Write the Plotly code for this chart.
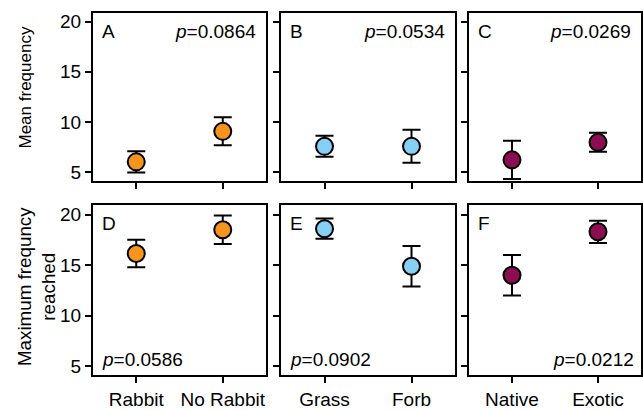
import plotly.graph_objects as go

# ---- data ----
panel_letters = ["A", "B", "C", "D", "E", "F"]
categories_rabbit = ["Rabbit", "No Rabbit"]
categories_growth = ["Grass", "Forb"]
categories_origin = ["Native", "Exotic"]

mean_rabbit = [6.0, 9.05]
mean_rabbit_err = [1.05, 1.4]
mean_growth = [7.55, 7.55]
mean_growth_err = [1.05, 1.65]
mean_origin = [6.2, 7.95]
mean_origin_err = [1.9, 0.95]

max_rabbit = [16.15, 18.5]
max_rabbit_err = [1.35, 1.4]
max_growth = [18.6, 14.9]
max_growth_err = [1.0, 2.0]
max_origin = [14.0, 18.3]
max_origin_err = [2.0, 1.1]

p_values = ["0.0864", "0.0534", "0.0269", "0.0586", "0.0902", "0.0212"]
y_ticks = [5, 10, 15, 20]

colors = {"rabbit": "#F7941E", "growth": "#86D0F5", "origin": "#8C0E50"}

W, H = 643, 410
FONT = "Liberation Sans, Arial, sans-serif"
FS = 19

# panel pixel frames
xpix = [(93, 266), (281, 455), (469, 641)]
ypix = [(12, 183), (208, 381)]

panels = [
    (categories_rabbit, mean_rabbit, mean_rabbit_err, "rabbit"),
    (categories_growth, mean_growth, mean_growth_err, "growth"),
    (categories_origin, mean_origin, mean_origin_err, "origin"),
    (categories_rabbit, max_rabbit, max_rabbit_err, "rabbit"),
    (categories_growth, max_growth, max_growth_err, "growth"),
    (categories_origin, max_origin, max_origin_err, "origin"),
]

fig = go.Figure()
layout = dict(width=W, height=H, margin=dict(l=0, r=0, t=0, b=0),
              paper_bgcolor="white", plot_bgcolor="white",
              showlegend=False, font=dict(family=FONT, color="black"))
annotations = []

for i, (cats, vals, errs, key) in enumerate(panels):
    row, col = divmod(i, 3)
    n = i + 1
    xa = "x" if n == 1 else f"x{n}"
    ya = "y" if n == 1 else f"y{n}"
    fig.add_trace(go.Scatter(
        x=cats, y=vals, xaxis=xa, yaxis=ya, mode="markers",
        marker=dict(size=17, color=colors[key], line=dict(color="black", width=2)),
        error_y=dict(type="data", array=errs, visible=True, color="black",
                     thickness=2, width=9),
        cliponaxis=False,
    ))
    x0, x1 = xpix[col]
    y0, y1 = ypix[row]
    xname = "xaxis" if n == 1 else f"xaxis{n}"
    yname = "yaxis" if n == 1 else f"yaxis{n}"
    layout[xname] = dict(
        domain=[x0 / W, x1 / W], anchor=ya, range=[-0.5, 1.5],
        type="category", categoryorder="array", categoryarray=cats,
        showline=True, mirror=True, linecolor="black", linewidth=2,
        ticks="outside", ticklen=6, tickwidth=1.5, tickcolor="black",
        showticklabels=(row == 1), tickfont=dict(size=FS, family=FONT, color="black"),
        showgrid=False, zeroline=False, fixedrange=True,
    )
    layout[yname] = dict(
        domain=[1 - y1 / H, 1 - y0 / H], anchor=xa, range=[4.1, 20.9],
        tickvals=y_ticks, showline=True, mirror=True, linecolor="black", linewidth=2,
        ticks="outside", ticklen=6, tickwidth=1.5, tickcolor="black",
        showticklabels=(col == 0), tickfont=dict(size=FS, family=FONT, color="black"),
        showgrid=False, zeroline=False, fixedrange=True,
    )
    # panel letter
    annotations.append(dict(
        text=panel_letters[i], xref=f"{xa} domain", yref=f"{ya} domain",
        x=0, y=1, xanchor="left", yanchor="top", xshift=7, yshift=-6,
        showarrow=False, font=dict(size=FS, family=FONT, color="black")))
    # p value
    ptxt = f"<i>p</i>={p_values[i]}"
    if row == 0:
        annotations.append(dict(text=ptxt, xref=f"{xa} domain", yref=f"{ya} domain",
                                x=1, y=1, xanchor="right", yanchor="top", xshift=-8, yshift=-6,
                                showarrow=False, font=dict(size=FS, family=FONT, color="black")))
    elif col < 2:
        annotations.append(dict(text=ptxt, xref=f"{xa} domain", yref=f"{ya} domain",
                                x=0, y=0, xanchor="left", yanchor="bottom", xshift=7, yshift=3,
                                showarrow=False, font=dict(size=FS, family=FONT, color="black")))
    else:
        annotations.append(dict(text=ptxt, xref=f"{xa} domain", yref=f"{ya} domain",
                                x=1, y=0, xanchor="right", yanchor="bottom", xshift=-5, yshift=3,
                                showarrow=False, font=dict(size=FS, family=FONT, color="black")))

annotations.append(dict(text="Mean frequency", xref="paper", yref="paper",
                        x=25 / W, y=1 - 88 / H, textangle=-90, showarrow=False,
                        xanchor="center", yanchor="middle",
                        font=dict(size=17, family=FONT, color="black")))
annotations.append(dict(text="Maximum frequncy<br>reached", xref="paper", yref="paper",
                        x=36 / W, y=1 - 291 / H, textangle=-90, showarrow=False,
                        xanchor="center", yanchor="middle",
                        font=dict(size=18.8, family=FONT, color="black")))

layout["annotations"] = annotations
fig.update_layout(**layout)
fig.write_html("out.html", config={"displayModeBar": False},
               post_script="document.body.style.margin='0';document.body.style.padding='0';")
